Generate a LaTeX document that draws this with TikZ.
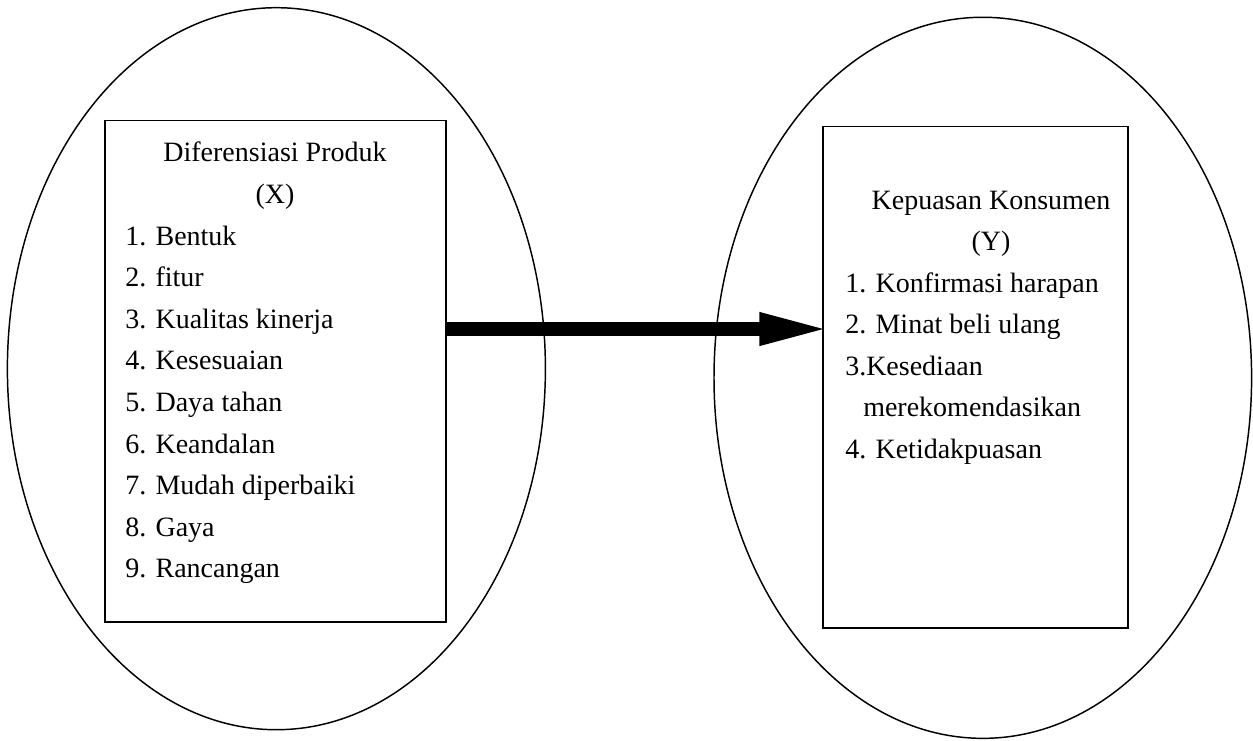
\documentclass[tikz,border=0pt]{standalone}
\usepackage{fontspec}
\setmainfont{Liberation Serif}
\usetikzlibrary{shapes.geometric,arrows.meta}
\begin{document}
\begin{tikzpicture}[x=0.75pt,y=-0.75pt,
  oval/.style={ellipse,draw,line width=1.1pt,inner sep=0pt,outer sep=0pt},
  frame/.style={rectangle,draw,line width=1.2pt,inner sep=0pt,outer sep=0pt},
  txt/.style={inner sep=0pt,font=\fontsize{21}{31}\selectfont},
  item/.style={txt,anchor=base west},
  head/.style={txt,anchor=base},
  bigarrow/.style={line width=10.5pt,-{Triangle[length=54pt,width=22pt]}}
]
\useasboundingbox (0,0) rectangle (1253,740);
% ellipses
\node[oval,minimum width=403.5pt,minimum height=541.5pt] (lell) at (276.4,368.7) {};
\node[oval,minimum width=403.2pt,minimum height=540.8pt] (rell) at (982.8,377.8) {};
% boxes
\node[frame,fill=white,minimum width=256pt,minimum height=376pt] (lbox) at (275.5,371.2) {};
\node[frame,fill=white,minimum width=228.5pt,minimum height=376pt] (rbox) at (975.6,377.3) {};
% left text
\node[head] (lt1) at (275,161.7) {Diferensiasi Produk};
\node[head] (lt2) at (275,203.3) {(X)};
\node[item] (l1) at (125,245.0) {1. Bentuk};
\node[item] (l2) at (125,286.6) {2. fitur};
\node[item] (l3) at (125,328.2) {3. Kualitas kinerja};
\node[item] (l4) at (125,369.8) {4. Kesesuaian};
\node[item] (l5) at (125,411.4) {5. Daya tahan};
\node[item] (l6) at (125,453.0) {6. Keandalan};
\node[item] (l7) at (125,494.6) {7. Mudah diperbaiki};
\node[item] (l8) at (125,536.2) {8. Gaya};
\node[item] (l9) at (125,577.8) {9. Rancangan};
% right text
\node[head] (rt1) at (991,209.0) {Kepuasan Konsumen};
\node[head] (rt2) at (991,250.5) {(Y)};
\node[item] (r1) at (845,292.0) {1. Konfirmasi harapan};
\node[item] (r2) at (845,333.5) {2. Minat beli ulang};
\node[item] (r3) at (845,375.0) {3.Kesediaan};
\node[item] (r3b) at (863,416.5) {merekomendasikan};
\node[item] (r4) at (845,458.0) {4. Ketidakpuasan};
% arrow
\coordinate (ay) at (0,329);
\draw[bigarrow,shorten >=-6pt] (lbox.east |- ay) -- (rbox.west |- ay);
\end{tikzpicture}
\end{document}
